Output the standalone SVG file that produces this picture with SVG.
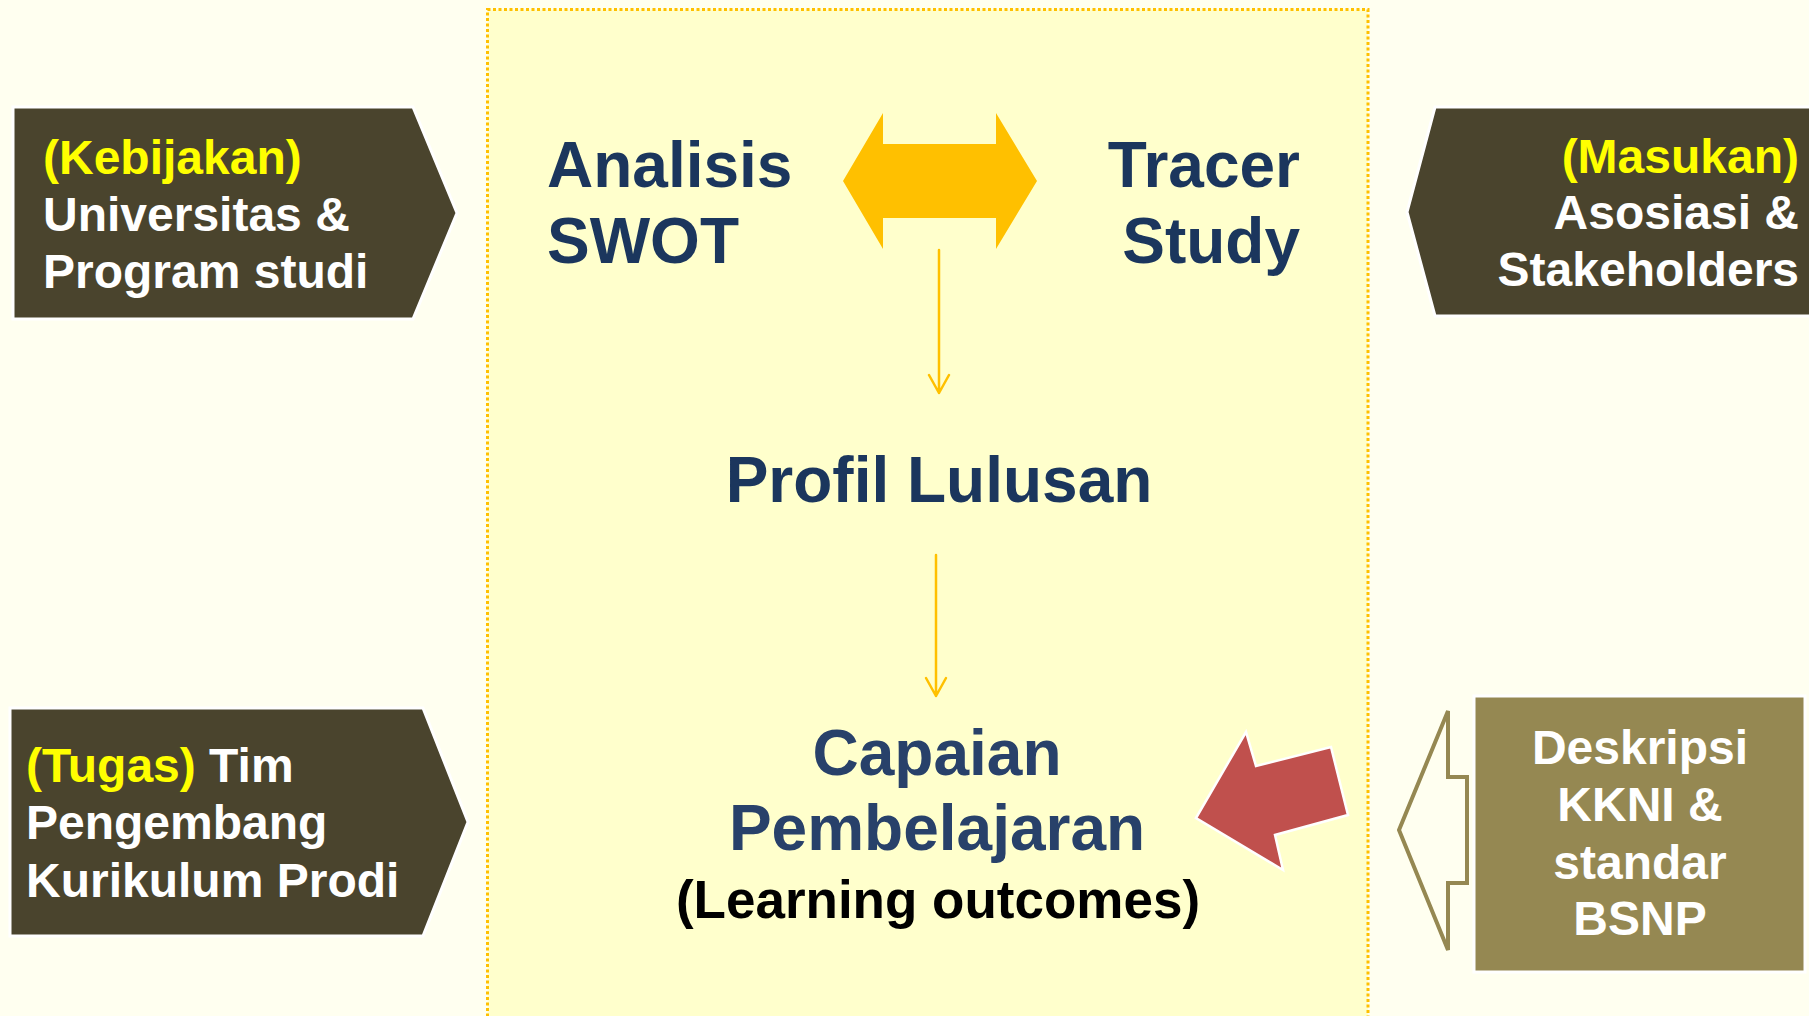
<svg xmlns="http://www.w3.org/2000/svg" width="1809" height="1016" viewBox="0 0 1809 1016">
<style>
.t{font-family:"Liberation Sans",Arial,sans-serif;font-weight:bold}
.nt{font-size:48px;fill:#FFFFFF}
.y{fill:#FFFF00}
.ct{font-size:64px;fill:#1B365D}
.dark{fill:#4A442D;stroke:#FFFFFF;stroke-width:3}
.thin{fill:none;stroke:#FFC000;stroke-width:2.5;stroke-linecap:round;stroke-linejoin:round}
</style>
<rect x="0" y="0" width="1809" height="1016" fill="#FFFFF0"/>
<rect id="frame" x="487.5" y="9.5" width="880.5" height="1020" fill="#FFFFCC" stroke="#FFC000" stroke-width="3" stroke-dasharray="3 2.5"/>

<g id="node-kebijakan">
<path class="dark" d="M13,107 L413,107 L457,213 L413,319 L13,319 Z"/>
<text class="t nt" x="43" y="174"><tspan class="y">(Kebijakan)</tspan></text>
<text class="t nt" x="43" y="231">Universitas &amp;</text>
<text class="t nt" x="43" y="288">Program studi</text>
</g>

<g id="node-masukan">
<path class="dark" d="M1812,107 L1435,107 L1407,212 L1435,316 L1812,316 Z"/>
<text class="t nt" x="1799" y="173" text-anchor="end"><tspan class="y">(Masukan)</tspan></text>
<text class="t nt" x="1799" y="229" text-anchor="end">Asosiasi &amp;</text>
<text class="t nt" x="1799" y="286" text-anchor="end">Stakeholders</text>
</g>

<g id="node-tugas">
<path class="dark" d="M10,708 L423,708 L468,822 L423,936 L10,936 Z"/>
<text class="t nt" x="26" y="782"><tspan class="y">(Tugas)</tspan> Tim</text>
<text class="t nt" x="26" y="839">Pengembang</text>
<text class="t nt" x="26" y="897">Kurikulum Prodi</text>
</g>

<g id="node-kkni">
<rect x="1474" y="696" width="331" height="276" fill="#958852" stroke="#FFFFFF" stroke-width="3"/>
<text class="t nt" x="1640" y="764" text-anchor="middle">Deskripsi</text>
<text class="t nt" x="1640" y="821" text-anchor="middle">KKNI &amp;</text>
<text class="t nt" x="1640" y="879" text-anchor="middle">standar</text>
<text class="t nt" x="1640" y="935" text-anchor="middle">BSNP</text>
</g>

<g id="node-swot">
<text class="t ct" x="547" y="187">Analisis</text>
<text class="t ct" x="547" y="263">SWOT</text>
</g>

<g id="node-tracer">
<text class="t ct" x="1300" y="187" text-anchor="end">Tracer</text>
<text class="t ct" x="1300" y="263" text-anchor="end">Study</text>
</g>

<g id="node-profil">
<text class="t ct" x="939" y="502" text-anchor="middle">Profil Lulusan</text>
</g>

<g id="node-capaian">
<text class="t ct" x="937" y="775" text-anchor="middle" style="fill:#28416A">Capaian</text>
<text class="t ct" x="937" y="850" text-anchor="middle" style="fill:#28416A">Pembelajaran</text>
<text class="t" x="938" y="918" text-anchor="middle" font-size="53" fill="#000000">(Learning outcomes)</text>
</g>

<g id="connectors">
<path d="M843,181 L883,113 L883,144 L996,144 L996,113 L1037,181 L996,249 L996,218 L883,218 L883,249 Z" fill="#FFC000"/>
<path class="thin" d="M939,250 L939,393 M929,375 L939,393 L949,375"/>
<path class="thin" d="M936,555 L936,696 M926,678 L936,696 L946,678"/>
<path d="M1196,818 L1246,732 L1256,766 L1331,747 L1348,815 L1275,835 L1283,870 Z" fill="#C0504D" stroke="#FFFFFF" stroke-width="2.5" stroke-linejoin="miter"/>
<path d="M1399,830 L1448,711 L1448,777 L1467,777 L1467,883 L1448,883 L1448,950 Z" fill="#FFFFF0" stroke="#958852" stroke-width="4"/>
</g>
</svg>
